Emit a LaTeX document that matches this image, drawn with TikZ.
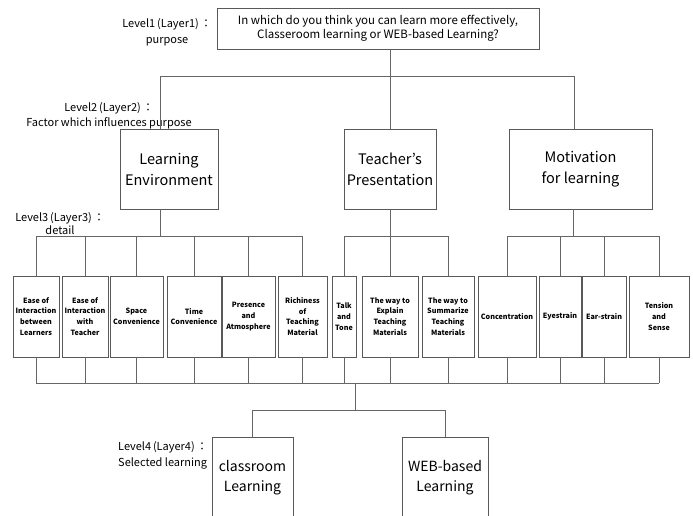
\documentclass[tikz,border=0pt]{standalone}
\usepackage{fontspec}
\setmainfont{Noto Sans CJK JP}
\begin{document}
\begin{tikzpicture}[x=1pt,y=-1pt,
	box/.style={rectangle, draw=black!65, line width=0.6pt, align=center, inner sep=1pt},
	goalbox/.style={box, minimum width=322pt, minimum height=41pt, font=\fontsize{11.5}{14}\selectfont},
	factorbox/.style={box, minimum height=80pt, font=\fontsize{14.5}{21}\selectfont},
	detailbox/.style={box, minimum height=81pt, font=\fontsize{7.2}{10.8}\selectfont\bfseries},
	choicebox/.style={box, minimum height=82pt, font=\fontsize{14}{20}\selectfont},
	level/.style={align=center, inner sep=0pt, font=\fontsize{11}{15.5}\selectfont},
	line/.style={draw=black!60, line width=0.6pt}]

	\useasboundingbox (0,0) rectangle (693,516);
	\clip (0,0) rectangle (693,516);

	%Nodes
	\node[goalbox]	(goal)	at (378,28.5) {In which do you think you can learn more effectively,\\Classeroom learning or WEB-based Learning?};
	\node[factorbox, minimum width=98pt]	(env)	at (169,169) {Learning\\Environment};
	\node[factorbox, minimum width=92pt]	(pres)	at (390,169) {Teacher’s\\Presentation};
	\node[factorbox, minimum width=143pt]	(motiv)	at (580.5,169) {Motivation\\for learning};

	\node[detailbox, minimum width=46pt]	(d1)	at (36,316.5) {Ease of\\Interaction\\between\\Learners};
	\node[detailbox, minimum width=46pt]	(d2)	at (85,316.5) {Ease of\\Interaction\\with\\Teacher};
	\node[detailbox, minimum width=53pt]	(d3)	at (136.5,316.5) {Space\\Convenience};
	\node[detailbox, minimum width=54pt]	(d4)	at (194,316.5) {Time\\Convenience};
	\node[detailbox, minimum width=53pt]	(d5)	at (248.5,316.5) {Presence\\and\\Atmosphere};
	\node[detailbox, minimum width=49pt]	(d6)	at (302.5,316.5) {Richiness\\of\\Teaching\\Material};
	\node[detailbox, minimum width=24pt]	(d7)	at (344,316.5) {Talk\\and\\Tone};
	\node[detailbox, minimum width=56pt]	(d8)	at (390,316.5) {The way to\\Explain\\Teaching\\Materials};
	\node[detailbox, minimum width=52pt]	(d9)	at (448,316.5) {The way to\\Summarize\\Teaching\\Materials};
	\node[detailbox, minimum width=58pt]	(d10)	at (507,316.5) {Concentration};
	\node[detailbox, minimum width=42pt]	(d11)	at (560,316.5) {Eyestrain};
	\node[detailbox, minimum width=44pt]	(d12)	at (604,316.5) {Ear-strain};
	\node[detailbox, minimum width=60pt]	(d13)	at (659,316.5) {Tension\\and\\Sense};

	\node[choicebox, minimum width=81pt]	(class)	at (252.5,478) {classroom\\Learning};
	\node[choicebox, minimum width=86pt]	(web)	at (445,478) {WEB-based\\Learning};

	\node[level]	(lev1)	at (167,32.5) {Level1\,(Layer1)\,：\\purpose};
	\node[level]	(lev2)	at (109,116) {Level2\,(Layer2)\,：\\Factor which influences purpose};
	\node[level, font=\fontsize{11}{13.5}\selectfont]	(lev3)	at (60,223.5) {Level3\,(Layer3)\,：\\detail};
	\node[level, anchor=west, align=left]	(lev4)	at (118,455.5) {Level4\,(Layer4)\,：\\Selected learning};

	%Buses
	\coordinate (bus1) at (0,76);
	\coordinate (bus2) at (0,236);
	\coordinate (bus3) at (0,383);
	\coordinate (bus4) at (355,410);
	\coordinate (envtop) at ([xshift=-9pt]env.north);
	\coordinate (envbot) at ([xshift=-9pt]env.south);
	\coordinate (mottop) at ([xshift=-6.5pt]motiv.north);
	\coordinate (motbot) at ([xshift=-7.5pt]motiv.south);

	%Lines
	\draw[line] (goal.south -| pres.north) -- (pres.north);
	\draw[line] (envtop) -- (envtop |- bus1) -- (mottop |- bus1) -- (mottop);

	\draw[line] (envbot) -- (envbot |- bus2);
	\draw[line] (d1.north |- bus2) -- (d6.north |- bus2);
	\foreach \i in {1,...,6} \draw[line] (d\i.north) -- (d\i.north |- bus2);
	\draw[line] (pres.south) -- (pres.south |- bus2);
	\draw[line] (d7.north |- bus2) -- (d9.north |- bus2);
	\foreach \i in {7,...,9} \draw[line] (d\i.north) -- (d\i.north |- bus2);
	\draw[line] (motbot) -- (motbot |- bus2);
	\draw[line] (d10.north |- bus2) -- (d13.north |- bus2);
	\foreach \i in {10,...,13} \draw[line] (d\i.north) -- (d\i.north |- bus2);

	\foreach \i in {1,...,13} \draw[line] (d\i.south) -- (d\i.south |- bus3);
	\draw[line] (d1.south |- bus3) -- (d13.south |- bus3);
	\draw[line] (bus4 |- bus3) -- (bus4);
	\draw[line] (class.north) -- (class.north |- bus4) -- (web.north |- bus4) -- (web.north);
\end{tikzpicture}
\end{document}
